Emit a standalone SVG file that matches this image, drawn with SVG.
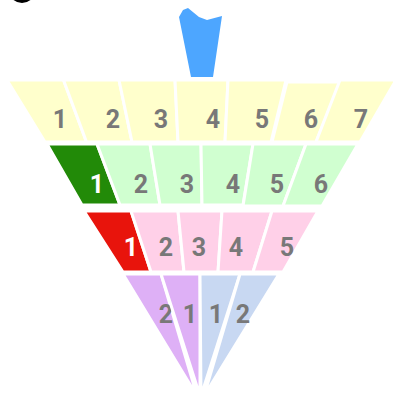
<svg xmlns="http://www.w3.org/2000/svg" width="393" height="396" viewBox="0 0 393 396">
<style>
.c{stroke:#fff;stroke-width:3;stroke-linejoin:miter}
.y{fill:#ffffcc}.g{fill:#d0ffd0}.dg{fill:#228a08}.r{fill:#e8140c}.p{fill:#ffd0e8}.v{fill:#deb0f6}.b{fill:#c8d8f2}
.t{font-family:Roboto,"Liberation Sans",sans-serif;font-size:25px;font-weight:bold;fill:#787878;text-anchor:middle}
.w{fill:#fff}
</style>
<rect width="393" height="396" fill="#fff"/>
<ellipse cx="22" cy="-7" rx="12" ry="10" fill="#000"/>
<g id="handle"><polygon points="179,17 183,10 188,8 199,17 207,20 222,16 213,77 191,77" fill="#4da6ff"/></g>
<g id="row1">
<g id="r1c1"><polygon class="c y" points="7,80 63.5,80 86.5,142 45,142"/><text class="t" x="60" y="128">1</text></g>
<g id="r1c2"><polygon class="c y" points="63.5,80 119,80 132,142 86.5,142"/><text class="t" x="113" y="128">2</text></g>
<g id="r1c3"><polygon class="c y" points="119,80 175,80 178,142 132,142"/><text class="t" x="161" y="128">3</text></g>
<g id="r1c4"><polygon class="c y" points="175,80 228,80 225,142 178,142"/><text class="t" x="213" y="128">4</text></g>
<g id="r1c5"><polygon class="c y" points="228,80 286,80 271,142 225,142"/><text class="t" x="262" y="128">5</text></g>
<g id="r1c6"><polygon class="c y" points="287,82 340,82 316,142 272,142"/><text class="t" x="311" y="128">6</text></g>
<g id="r1c7"><polygon class="c y" points="340,80 396,80 360,142 316,142"/><text class="t" x="361" y="128">7</text></g>
</g>
<g id="row2">
<g id="r2c1"><polygon class="c dg" points="47,144 97,144 120,205 82,205"/><text class="t w" x="97" y="193">1</text></g>
<g id="r2c2"><polygon class="c g" points="97,144 150,144 160,205 120,205"/><text class="t" x="141" y="193">2</text></g>
<g id="r2c3"><polygon class="c g" points="150,144 201,144 202,205 160,205"/><text class="t" x="187" y="193">3</text></g>
<g id="r2c4"><polygon class="c g" points="201,144 253,144 243,205 202,205"/><text class="t" x="233" y="193">4</text></g>
<g id="r2c5"><polygon class="c g" points="253,144 306,144 283,206 243,206"/><text class="t" x="277" y="193">5</text></g>
<g id="r2c6"><polygon class="c g" points="306,144 358,144 322,206 283,206"/><text class="t" x="321" y="193">6</text></g>
</g>
<g id="row3">
<g id="r3c1"><polygon class="c r" points="84,211 131,211 151,272 123,272"/><text class="t w" x="131" y="256">1</text></g>
<g id="r3c2"><polygon class="c p" points="131,211 178,211 184,272 151,272"/><text class="t" x="166" y="256">2</text></g>
<g id="r3c3"><polygon class="c p" points="178,211 222,211 218,272 184,272"/><text class="t" x="199" y="256">3</text></g>
<g id="r3c4"><polygon class="c p" points="222,211 272,211 253,272 218,272"/><text class="t" x="236" y="256">4</text></g>
<g id="r3c5"><polygon class="c p" points="272,211 318,211 283,272 253,272"/><text class="t" x="287" y="256">5</text></g>
</g>
<g id="row4">
<g id="r4c1"><polygon class="c v" points="123,274 161,274 197,396"/><text class="t" x="166" y="323">2</text></g>
<g id="r4c2"><polygon class="c v" points="161,274 200,274 200,396"/><text class="t" x="190" y="323">1</text></g>
<g id="r4c3"><polygon class="c b" points="200,274 240,274 201,396"/><text class="t" x="216" y="323">1</text></g>
<g id="r4c4"><polygon class="c b" points="240,274 279,274 204,396"/><text class="t" x="243" y="323">2</text></g>
</g>
<g id="connectors"/>
</svg>
